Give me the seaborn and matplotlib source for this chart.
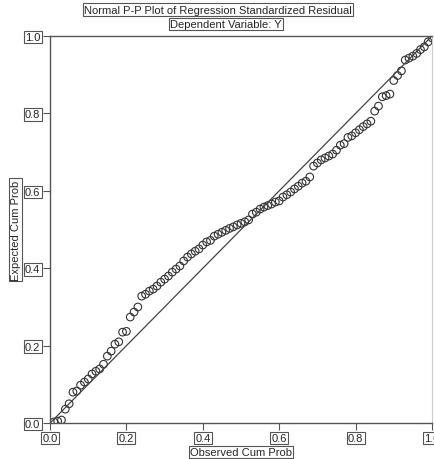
import seaborn as sns
import matplotlib.pyplot as plt
import pandas as pd

# observed cumulative probability (x) and expected cumulative probability (y)
obs_cum = [0.01, 0.02, 0.03, 0.04, 0.05, 0.06, 0.07, 0.08, 0.09, 0.10,
           0.11, 0.12, 0.13, 0.14, 0.15, 0.16, 0.17, 0.18, 0.19, 0.20,
           0.21, 0.22, 0.23, 0.24, 0.25, 0.26, 0.27, 0.28, 0.29, 0.30,
           0.31, 0.32, 0.33, 0.34, 0.35, 0.36, 0.37, 0.38, 0.39, 0.40,
           0.41, 0.42, 0.43, 0.44, 0.45, 0.46, 0.47, 0.48, 0.49, 0.50,
           0.51, 0.52, 0.53, 0.54, 0.55, 0.56, 0.57, 0.58, 0.59, 0.60,
           0.61, 0.62, 0.63, 0.64, 0.65, 0.66, 0.67, 0.68, 0.69, 0.70,
           0.71, 0.72, 0.73, 0.74, 0.75, 0.76, 0.77, 0.78, 0.79, 0.80,
           0.81, 0.82, 0.83, 0.84, 0.85, 0.86, 0.87, 0.88, 0.89, 0.90,
           0.91, 0.92, 0.93, 0.94, 0.95, 0.96, 0.97, 0.98, 0.99, 1.00]
exp_cum = [0.003, 0.005, 0.008, 0.036, 0.050, 0.080, 0.083, 0.098, 0.106, 0.114,
           0.127, 0.134, 0.140, 0.152, 0.173, 0.186, 0.204, 0.210, 0.235, 0.237,
           0.274, 0.287, 0.300, 0.328, 0.333, 0.341, 0.346, 0.354, 0.364, 0.372,
           0.380, 0.390, 0.398, 0.406, 0.419, 0.429, 0.437, 0.444, 0.450, 0.460,
           0.468, 0.472, 0.483, 0.488, 0.493, 0.498, 0.503, 0.507, 0.512, 0.516,
           0.520, 0.525, 0.540, 0.545, 0.553, 0.558, 0.562, 0.566, 0.571, 0.574,
           0.584, 0.590, 0.597, 0.605, 0.612, 0.620, 0.625, 0.636, 0.664, 0.672,
           0.680, 0.685, 0.690, 0.695, 0.705, 0.718, 0.722, 0.738, 0.742, 0.750,
           0.758, 0.766, 0.773, 0.780, 0.806, 0.819, 0.843, 0.846, 0.850, 0.885,
           0.898, 0.910, 0.938, 0.943, 0.948, 0.955, 0.965, 0.972, 0.985, 0.995]
ref_line = [0.0, 1.0]
ticks = [0.0, 0.2, 0.4, 0.6, 0.8, 1.0]
tick_labels = ["0.0", "0.2", "0.4", "0.6", "0.8", "1.0"]

sns.set_style("white")
plt.rcParams['font.family'] = ['Liberation Sans', 'DejaVu Sans']

df = pd.DataFrame({'obs': obs_cum, 'exp': exp_cum})

fig = plt.figure(figsize=(4.35, 4.6), dpi=100)
ax = fig.add_axes([0.115, 0.078, 0.878, 0.8415])

sns.lineplot(x=ref_line, y=ref_line, color="#444444", linewidth=0.9, ax=ax)
sns.scatterplot(x='obs', y='exp', data=df, marker='o', s=30,
                facecolor='none', edgecolor='#333333', linewidth=0.8, ax=ax)

ax.set_xlim(0, 1)
ax.set_ylim(0, 1)
ax.set_xticks(ticks)
ax.set_yticks(ticks)
ax.set_xticklabels(tick_labels)
ax.set_yticklabels(tick_labels)
ax.tick_params(axis='both', direction='out', length=5, width=0.8, color='#555555',
               labelsize=8, pad=2, bottom=True, left=True)

box = dict(boxstyle='square,pad=0.12', facecolor='white', edgecolor='#555555', linewidth=0.8)
for lbl in ax.get_xticklabels() + ax.get_yticklabels():
    lbl.set_bbox(box)

for side in ['left', 'bottom', 'top']:
    ax.spines[side].set_color('#555555')
    ax.spines[side].set_linewidth(1.0)
ax.spines['right'].set_color('#cccccc')
ax.spines['right'].set_linewidth(0.8)

ax.set_xlabel("Observed Cum Prob", fontsize=8, labelpad=3, bbox=box)
ax.set_ylabel("Expected Cum Prob", fontsize=8, labelpad=3, bbox=box)

fig.text(0.501, 0.977, "Normal P-P Plot of Regression Standardized Residual",
         ha='center', va='center', fontsize=8, bbox=box)
fig.text(0.52, 0.946, "Dependent Variable: Y", ha='center', va='center',
         fontsize=8, bbox=box)

plt.savefig('out.png', dpi=100)
